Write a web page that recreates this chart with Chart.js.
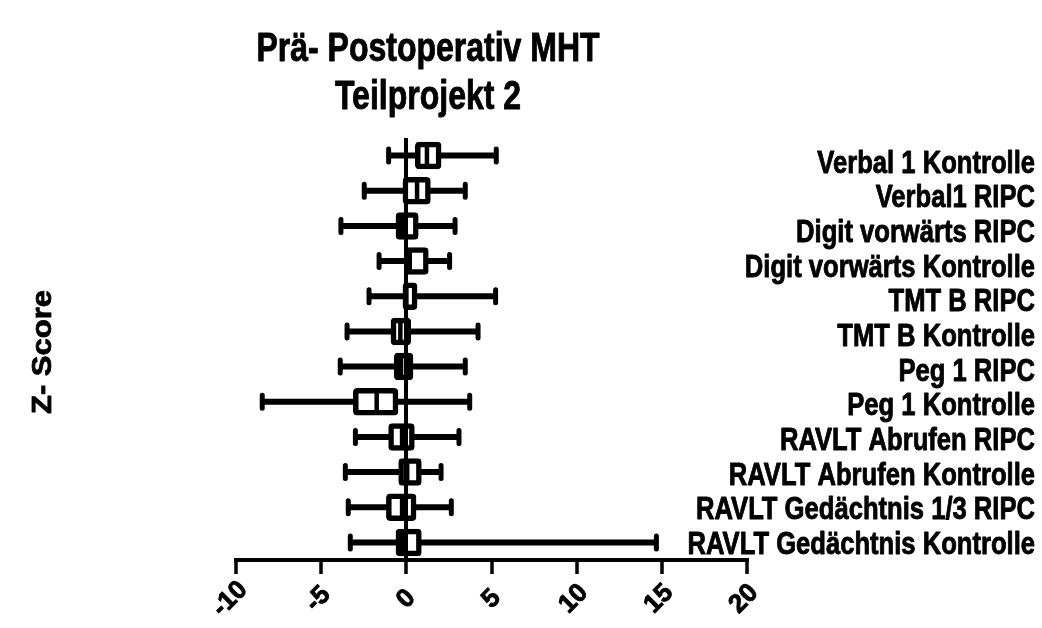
<!DOCTYPE html>
<html>
<head>
<meta charset="utf-8">
<script src="https://cdn.jsdelivr.net/npm/chart.js@4/dist/chart.umd.min.js"></script>
<style>
  html, body { margin: 0; padding: 0; background: #fff; }
  canvas { display: block; }
</style>
</head>
<body>
<canvas id="chart" width="1042" height="628"></canvas>
<script>
// ── Data (top to bottom) ──────────────────────────────────────────────────────
const categories = [
  'Verbal 1 Kontrolle',
  'Verbal1 RIPC',
  'Digit vorwärts RIPC',
  'Digit vorwärts Kontrolle',
  'TMT B RIPC',
  'TMT B Kontrolle',
  'Peg 1 RIPC',
  'Peg 1 Kontrolle',
  'RAVLT Abrufen RIPC',
  'RAVLT Abrufen Kontrolle',
  'RAVLT Gedächtnis 1/3 RIPC',
  'RAVLT Gedächtnis Kontrolle',
];
const whiskerMin = [-1.04, -2.47, -3.84, -1.60, -2.19, -3.48, -3.88, -8.46, -2.99, -3.58, -3.41, -3.29];
const q1         = [ 0.51, -0.22, -0.63, -0.08, -0.22, -0.92, -0.73, -3.13, -1.06, -0.47, -1.19, -0.63];
const median     = [ 1.21,  0.63, -0.25,  0.20,  0.00, -0.35, -0.31, -1.74, -0.25,  0.05, -0.25, -0.25];
const q3         = [ 2.06,  1.43,  0.72,  1.31,  0.65,  0.28,  0.41, -0.47,  0.49,  0.90,  0.59,  0.90];
const whiskerMax = [ 5.28,  3.46,  2.86,  2.54,  5.24,  4.21,  3.46,  3.72,  3.09,  2.04,  2.64, 14.68];
const xTicks     = [-10, -5, 0, 5, 10, 15, 20];
const titleLines = ['Prä- Postoperativ MHT', 'Teilprojekt 2'];
const yTitle     = 'Z- Score';

const FONT = '"Liberation Sans", Arial, Helvetica, sans-serif';
const SQUASH = 0.8; // the reference text is horizontally compressed

// fill + thin stroke, the reference glyphs are a bit heavier than plain bold
function heavyText(ctx, s, x, y) {
  ctx.fillText(s, x, y);
  ctx.strokeText(s, x, y);
}

// ── Plugins ───────────────────────────────────────────────────────────────────
const boxParts = {
  id: 'boxParts',
  afterDatasetsDraw(chart) {
    const { ctx } = chart;
    const x = chart.scales.x;
    const bars = chart.getDatasetMeta(0).data;
    ctx.save();
    ctx.strokeStyle = '#000';
    bars.forEach((bar, i) => {
      const y = bar.y;
      const half = bar.height / 2;
      const pMin = x.getPixelForValue(whiskerMin[i]);
      const pQ1  = x.getPixelForValue(q1[i]);
      const pMed = x.getPixelForValue(median[i]);
      const pQ3  = x.getPixelForValue(q3[i]);
      const pMax = x.getPixelForValue(whiskerMax[i]);

      // whiskers
      ctx.lineWidth = 6;
      ctx.lineCap = 'butt';
      ctx.beginPath();
      ctx.moveTo(pMin, y); ctx.lineTo(pQ1 + 1, y);
      ctx.moveTo(pQ3 - 1, y); ctx.lineTo(pMax, y);
      ctx.stroke();

      // caps
      ctx.lineWidth = 5;
      ctx.lineCap = 'round';
      ctx.beginPath();
      ctx.moveTo(pMin, y - 6.5); ctx.lineTo(pMin, y + 6.5);
      ctx.moveTo(pMax, y - 6.5); ctx.lineTo(pMax, y + 6.5);
      ctx.stroke();

      // median
      ctx.lineWidth = 4.5;
      ctx.lineCap = 'butt';
      ctx.beginPath();
      ctx.moveTo(pMed, y - half + 3); ctx.lineTo(pMed, y + half - 3);
      ctx.stroke();
    });
    ctx.restore();
  },
};

const texts = {
  id: 'texts',
  afterDraw(chart) {
    const { ctx } = chart;
    const x = chart.scales.x;
    const y = chart.scales.y;
    ctx.save();
    ctx.fillStyle = '#000';
    ctx.strokeStyle = '#000';
    ctx.lineWidth = 0.9;
    ctx.lineJoin = 'round';

    // title
    ctx.font = `bold 40px ${FONT}`;
    ctx.textAlign = 'center';
    ctx.textBaseline = 'alphabetic';
    [61, 109].forEach((by, k) => {
      ctx.save();
      ctx.translate(428, by);
      ctx.scale(SQUASH, 1);
      heavyText(ctx, titleLines[k], 0, 0);
      ctx.restore();
    });

    // category labels (right side)
    ctx.font = `bold 32px ${FONT}`;
    ctx.textAlign = 'right';
    categories.forEach((label, i) => {
      ctx.save();
      ctx.translate(1035, y.getPixelForValue(i) + 17 - i * 0.5);
      ctx.scale(SQUASH, 1);
      heavyText(ctx, label, 0, 0);
      ctx.restore();
    });

    // x tick labels, rotated
    ctx.font = `bold 26px ${FONT}`;
    ctx.textAlign = 'center';
    ctx.textBaseline = 'middle';
    xTicks.forEach((v) => {
      const s = String(v);
      ctx.save();
      ctx.translate(x.getPixelForValue(v) - (s.length - 1) * 3, 599);
      ctx.rotate(-Math.PI / 4);
      heavyText(ctx, s, 0, 0);
      ctx.restore();
    });

    // y title
    ctx.font = `bold 31px ${FONT}`;
    ctx.textAlign = 'center';
    ctx.textBaseline = 'alphabetic';
    ctx.save();
    ctx.translate(51, 352);
    ctx.scale(0.9, 1);
    ctx.rotate(-Math.PI / 2);
    heavyText(ctx, yTitle, 0, 0);
    ctx.restore();

    ctx.restore();
  },
};

// ── Chart ─────────────────────────────────────────────────────────────────────
new Chart(document.getElementById('chart'), {
  type: 'bar',
  data: {
    labels: categories,
    datasets: [{
      data:            categories.map((_, i) => [q1[i], q3[i]]),
      backgroundColor: 'rgba(0,0,0,0)',
      borderColor:     '#000',
      borderWidth:     5.5,
      borderRadius:    4,
      borderSkipped:   false,
      barPercentage:   0.78,
      categoryPercentage: 1,
    }],
  },
  options: {
    indexAxis:  'y',
    responsive: false,
    animation:  false,
    devicePixelRatio: 1,
    layout: { padding: { left: 236, top: 138, right: 295, bottom: 0 } },
    plugins: {
      legend:  { display: false },
      title:   { display: false },
      tooltip: { enabled: false },
    },
    scales: {
      x: {
        type: 'linear',
        min: -10,
        max: 20,
        ticks: { stepSize: 5, display: false },
        grid: {
          color:      (c) => (c.tick && c.tick.value === 0 ? '#000' : 'rgba(0,0,0,0)'),
          lineWidth:  4,
          tickColor:  '#000',
          tickLength: 14,
          tickWidth:  3.5,
        },
        border: { display: true, color: '#000', width: 4 },
        afterFit: (s) => { s.height = 68; },
      },
      y: {
        type: 'category',
        display: false,
      },
    },
  },
  plugins: [boxParts, texts],
});
</script>
</body>
</html>
